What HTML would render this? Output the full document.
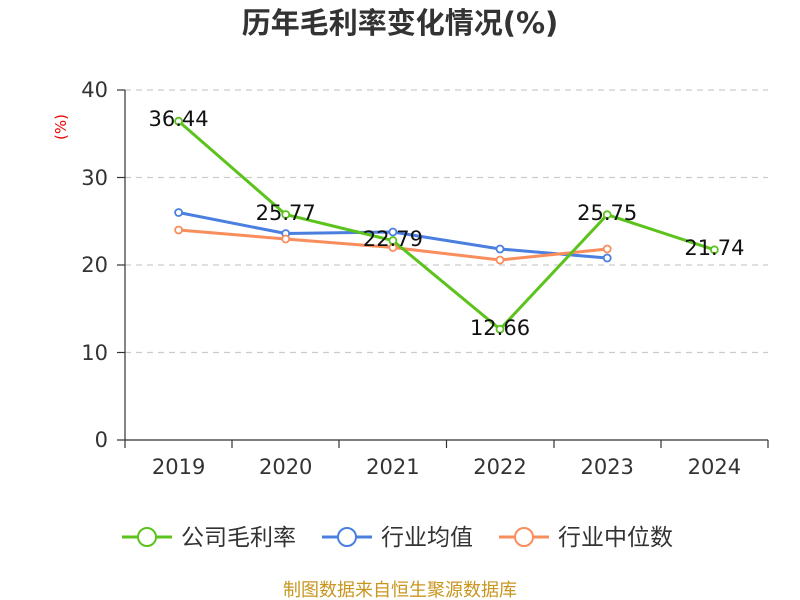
<!DOCTYPE html>
<html><head><meta charset="utf-8"><style>
body{margin:0;background:#fff;}
svg{display:block;font-family:"DejaVu Sans","Noto Sans CJK SC",sans-serif;}
</style></head><body>
<svg width="800" height="600" viewBox="0 0 800 600">
<rect width="800" height="600" fill="#fff"/>
<text x="400" y="33" text-anchor="middle" font-size="29" font-weight="bold" fill="#333">历年毛利率变化情况(%)</text>
<text x="66" y="127" font-size="15" fill="#e00" text-anchor="middle" transform="rotate(-90 66 127)">(%)</text>
<g stroke="#ccc" stroke-dasharray="6,5" stroke-width="1.2">
<line x1="125" y1="90" x2="768" y2="90"/>
<line x1="125" y1="177.5" x2="768" y2="177.5"/>
<line x1="125" y1="265" x2="768" y2="265"/>
<line x1="125" y1="352.5" x2="768" y2="352.5"/>
</g>
<g stroke="#333" stroke-width="1.2">
<line x1="125" y1="90" x2="125" y2="440"/>
<line x1="125" y1="440" x2="768" y2="440"/>
<line x1="117" y1="90" x2="125" y2="90"/><line x1="117" y1="177.5" x2="125" y2="177.5"/>
<line x1="117" y1="265" x2="125" y2="265"/><line x1="117" y1="352.5" x2="125" y2="352.5"/>
<line x1="117" y1="440" x2="125" y2="440"/>
<line x1="125" y1="440" x2="125" y2="448"/><line x1="232" y1="440" x2="232" y2="448"/>
<line x1="339" y1="440" x2="339" y2="448"/><line x1="446.5" y1="440" x2="446.5" y2="448"/>
<line x1="554" y1="440" x2="554" y2="448"/><line x1="661" y1="440" x2="661" y2="448"/>
<line x1="768" y1="440" x2="768" y2="448"/>
</g>
<g font-size="21" fill="#333" text-anchor="end">
<text x="108" y="97">40</text><text x="108" y="185">30</text><text x="108" y="272">20</text>
<text x="108" y="360">10</text><text x="108" y="447">0</text>
</g>
<g font-size="21" fill="#333" text-anchor="middle">
<text x="178.6" y="474">2019</text><text x="285.7" y="474">2020</text><text x="392.9" y="474">2021</text>
<text x="500" y="474">2022</text><text x="607.2" y="474">2023</text><text x="714.4" y="474">2024</text>
</g>
<polyline fill="none" stroke="#4a7fe0" stroke-width="3" points="178.6,212.5 285.7,233.5 392.9,232 500,249 607.2,258"/>
<polyline fill="none" stroke="#f98d5c" stroke-width="3" points="178.6,230 285.7,239 392.9,247.5 500,260 607.2,249"/>
<polyline fill="none" stroke="#5cc31d" stroke-width="3" points="178.6,121.2 285.7,214.5 392.9,240.6 500,329.2 607.2,214.7 714.4,249.8"/>
<g fill="#fff" stroke-width="1.8">
<g stroke="#4a7fe0"><circle cx="178.6" cy="212.5" r="3.5"/><circle cx="285.7" cy="233.5" r="3.5"/><circle cx="392.9" cy="232" r="3.5"/><circle cx="500" cy="249" r="3.5"/><circle cx="607.2" cy="258" r="3.5"/></g>
<g stroke="#f98d5c"><circle cx="178.6" cy="230" r="3.5"/><circle cx="285.7" cy="239" r="3.5"/><circle cx="392.9" cy="247.5" r="3.5"/><circle cx="500" cy="260" r="3.5"/><circle cx="607.2" cy="249" r="3.5"/></g>
<g stroke="#5cc31d"><circle cx="178.6" cy="121.2" r="3.5"/><circle cx="285.7" cy="214.5" r="3.5"/><circle cx="392.9" cy="240.6" r="3.5"/><circle cx="500" cy="329.2" r="3.5"/><circle cx="607.2" cy="214.7" r="3.5"/><circle cx="714.4" cy="249.8" r="3.5"/></g>
</g>
<g font-size="21" fill="#111" text-anchor="middle">
<text x="178.6" y="126">36.44</text><text x="285.7" y="220">25.77</text><text x="392.9" y="246">22.79</text>
<text x="500" y="335">12.66</text><text x="607.2" y="220">25.75</text><text x="714.4" y="255">21.74</text>
</g>
<g stroke-width="3" fill="#fff">
<line x1="122" y1="537" x2="172" y2="537" stroke="#5cc31d"/><circle cx="147" cy="537" r="9" stroke="#5cc31d" stroke-width="2"/>
<line x1="322" y1="537" x2="372" y2="537" stroke="#4a7fe0"/><circle cx="347" cy="537" r="9" stroke="#4a7fe0" stroke-width="2"/>
<line x1="499" y1="537" x2="549" y2="537" stroke="#f98d5c"/><circle cx="524" cy="537" r="9" stroke="#f98d5c" stroke-width="2"/>
</g>
<g font-size="23" fill="#333">
<text x="181" y="545">公司毛利率</text><text x="381" y="545">行业均值</text><text x="558" y="545">行业中位数</text>
</g>
<text x="400" y="596" text-anchor="middle" font-size="18" fill="#c8961e">制图数据来自恒生聚源数据库</text>
</svg>
</body></html>
